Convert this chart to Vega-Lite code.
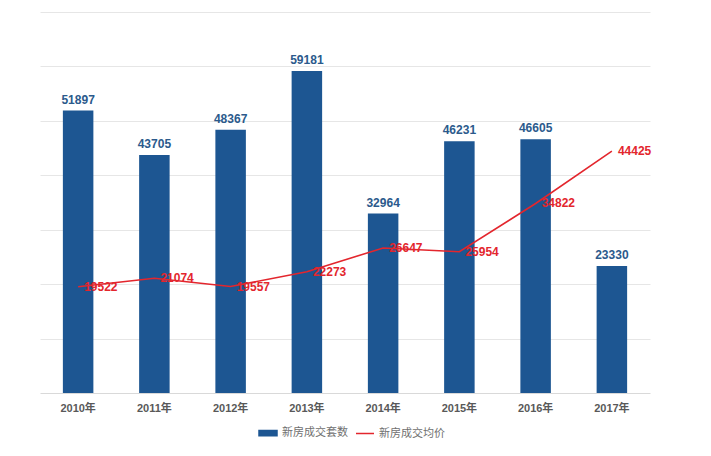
{
  "$schema": "https://vega.github.io/schema/vega-lite/v6.json",
  "width": 610,
  "height": 381,
  "autosize": {"type": "none"},
  "padding": {"left": 40, "top": 12, "right": 61, "bottom": 63},
  "background": "white",
  "config": {
    "view": {"stroke": null},
    "font": "Liberation Sans, Noto Sans CJK SC"
  },
  "data": {
    "values": [
      {"year": "2010年", "count": 51897, "price": 19522},
      {"year": "2011年", "count": 43705, "price": 21074},
      {"year": "2012年", "count": 48367, "price": 19557},
      {"year": "2013年", "count": 59181, "price": 22273},
      {"year": "2014年", "count": 32964, "price": 26647},
      {"year": "2015年", "count": 46231, "price": 25954},
      {"year": "2016年", "count": 46605, "price": 34822},
      {"year": "2017年", "count": 23330, "price": 44425}
    ]
  },
  "encoding": {
    "x": {
      "field": "year",
      "type": "ordinal",
      "sort": null,
      "scale": {"paddingInner": 0.6, "paddingOuter": 0.3},
      "axis": {
        "title": null,
        "labelAngle": 0,
        "ticks": false,
        "domainColor": "#d9d9d9",
        "labelFont": "Liberation Sans, Noto Sans CJK SC",
        "labelFontSize": 11,
        "labelFontWeight": "bold",
        "labelColor": "#595959",
        "labelPadding": 9
      }
    }
  },
  "layer": [
    {
      "mark": {"type": "bar"},
      "encoding": {
        "y": {
          "field": "count",
          "type": "quantitative",
          "scale": {"domain": [0, 70000], "nice": false},
          "axis": {
            "title": null,
            "labels": false,
            "ticks": false,
            "domain": false,
            "grid": true,
            "gridColor": "#e6e6e6",
            "values": [10000, 20000, 30000, 40000, 50000, 60000, 70000]
          }
        },
        "color": {
          "datum": "新房成交套数",
          "scale": {
            "domain": ["新房成交套数", "新房成交均价"],
            "range": ["#1d5692", "#e3262d"]
          },
          "legend": {
            "orient": "none",
            "legendX": 218,
            "legendY": 411,
            "direction": "horizontal",
            "title": null,
            "symbolSize": 324,
            "labelFont": "Noto Sans CJK SC",
            "labelFontSize": 11,
            "labelColor": "#707070",
            "labelOffset": 4,
            "columnPadding": 5,
            "encode": {
              "symbols": {
                "update": {
                  "shape": {"signal": "datum.value === '新房成交套数' ? 'M-1,-0.3H1V0.3H-1Z' : 'stroke'"},
                  "fill": {"scale": "color", "field": "value"},
                  "stroke": {"scale": "color", "field": "value"},
                  "strokeWidth": {"value": 1.5}
                }
              }
            }
          }
        }
      }
    },
    {
      "mark": {
        "type": "text",
        "baseline": "bottom",
        "dy": -4,
        "font": "Liberation Sans",
        "fontSize": 12,
        "fontWeight": "bold",
        "color": "#2b5a8c"
      },
      "encoding": {
        "y": {"field": "count", "type": "quantitative"},
        "text": {"field": "count", "type": "quantitative", "format": "d"}
      }
    },
    {
      "mark": {"type": "line", "strokeWidth": 1.6},
      "encoding": {
        "y": {"field": "price", "type": "quantitative"},
        "color": {"datum": "新房成交均价"}
      }
    },
    {
      "mark": {
        "type": "text",
        "align": "left",
        "baseline": "middle",
        "dx": 6,
        "font": "Liberation Sans",
        "fontSize": 12,
        "fontWeight": "bold",
        "color": "#e3262d"
      },
      "encoding": {
        "y": {"field": "price", "type": "quantitative"},
        "text": {"field": "price", "type": "quantitative", "format": "d"}
      }
    }
  ]
}
